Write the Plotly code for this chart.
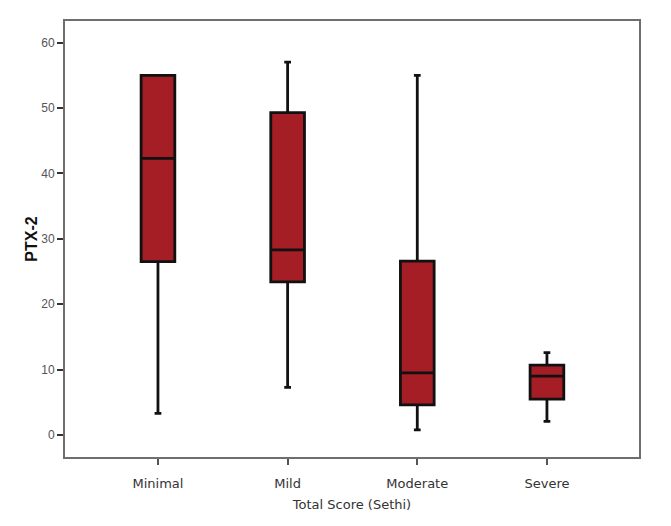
import plotly.graph_objects as go

categories = ["Minimal", "Mild", "Moderate", "Severe"]
minimum = [3.3, 7.3, 0.8, 2.1]
q1 = [26.5, 23.4, 4.6, 5.5]
median = [42.3, 28.3, 9.5, 9.0]
q3 = [55.0, 49.3, 26.6, 10.7]
maximum = [55.0, 57.0, 55.0, 12.6]
y_ticks = [0, 10, 20, 30, 40, 50, 60]

fig = go.Figure()
fig.add_trace(go.Box(
    x=categories,
    q1=q1, median=median, q3=q3,
    lowerfence=minimum, upperfence=maximum,
    fillcolor="#A51D25",
    line=dict(color="#111111", width=2.8),
    whiskerwidth=0.2,
    width=0.26,
    boxpoints=False,
    showlegend=False,
    hoverinfo="skip",
))

fig.update_layout(
    width=663, height=518,
    margin=dict(l=57, r=32, t=13, b=69),
    paper_bgcolor="white", plot_bgcolor="white",
    font=dict(family="Liberation Sans, Arial", color="#333333"),
    xaxis=dict(
        range=[-0.717, 3.71],
        automargin=False,
        showline=True, linecolor="#6e6e6e", linewidth=2, mirror=True,
        ticks="outside", ticklen=6, tickcolor="#555555", tickwidth=1.5,
        ticklabelstandoff=7,
        tickfont=dict(family="DejaVu Sans", size=13, color="#333333"),
        title=dict(text="Total Score (Sethi)", font=dict(family="DejaVu Sans", size=13, color="#333333"), standoff=10),
        showgrid=False, zeroline=False,
    ),
    yaxis=dict(
        range=[-3.36, 63.3],
        automargin=False,
        tickvals=y_ticks,
        showline=True, linecolor="#6e6e6e", linewidth=2, mirror=True,
        ticks="outside", ticklen=6, tickcolor="#333333", tickwidth=1.5,
        tickfont=dict(family="Liberation Sans, Arial", size=12, color="#555555"),
        title=dict(text="<b>PTX-2</b>", font=dict(family="Liberation Sans, Arial", size=16, color="#111111"), standoff=0),
        showgrid=False, zeroline=False,
    ),
)

fig.write_html("out.html")
